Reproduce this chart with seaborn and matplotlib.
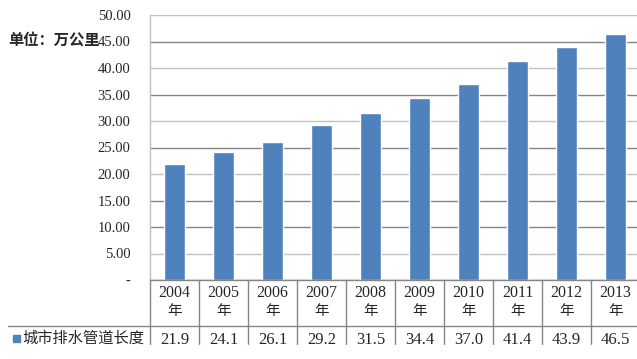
import numpy as np
import matplotlib
matplotlib.use('Agg')
import matplotlib.pyplot as plt
import matplotlib.transforms as mtransforms
from matplotlib.patches import Rectangle
from matplotlib.lines import Line2D
import seaborn as sns

# 数据
years = ['2004', '2005', '2006', '2007', '2008', '2009', '2010', '2011', '2012', '2013']
lengths = [21.9, 24.1, 26.1, 29.2, 31.5, 34.4, 37.0, 41.4, 43.9, 46.5]
series_name = '城市排水管道长度'
unit_label = '单位：万公里'
yticks = [0, 5, 10, 15, 20, 25, 30, 35, 40, 45, 50]

sns.set_style('white')
plt.rcParams['font.family'] = ['Liberation Serif', 'Noto Sans CJK SC', 'DejaVu Sans']

W, H = 637, 359
bar_color = '#4F81BD'
light = '#c0c0c0'
dark = '#858585'

fig = plt.figure(figsize=(W / 100, H / 100), dpi=100)
ax = fig.add_axes([150 / W, 79 / H, 490 / W, 265 / H])

sns.barplot(x=years, y=lengths, color=bar_color, width=0.41, saturation=1, ax=ax)

ax.set_xlim(-0.5, 9.5)
ax.set_ylim(0, 50)
ax.set_yticks(yticks)
ax.set_yticklabels(['-' if v == 0 else f'{v:.2f}' for v in yticks],
                   fontsize=10.5, family='Liberation Serif')
ax.tick_params(axis='y', length=0, pad=14)
ax.tick_params(axis='x', length=0, labelbottom=False)
ax.set_xlabel('')
ax.set_ylabel('')
ax.yaxis.grid(True, lw=1)
ax.set_axisbelow(True)
# 网格线深浅交替（原图效果）
grid_cols = [dark, light, dark, dark, light, dark, light, dark, light, dark, light]
for gl, c in zip(ax.yaxis.get_gridlines(), grid_cols):
    gl.set_color(c)
for s in ['top', 'right']:
    ax.spines[s].set_visible(False)
ax.spines['left'].set_color(light)
ax.spines['bottom'].set_color(dark)
for s in ['left', 'bottom']:
    ax.spines[s].set_linewidth(1)

# 表格部分
trans = mtransforms.blended_transform_factory(ax.transData, ax.transAxes)
px = 1 / 265
for k in range(len(years) + 1):
    ax.add_line(Line2D([k - 0.5, k - 0.5], [0, -66 * px], color=dark,
                       lw=1, transform=trans, clip_on=False))

for i, (yr, v) in enumerate(zip(years, lengths)):
    ax.text(i, -13 * px, yr, transform=trans, ha='center', va='center',
            fontsize=11.5, family='Liberation Serif')
    ax.text(i, -31 * px, '年', transform=trans, ha='center', va='center',
            fontsize=10.5, family='Noto Sans CJK SC')
    ax.text(i, -60 * px, f'{v:.1f}', transform=trans, ha='center', va='center',
            fontsize=12, family='Liberation Serif')

fig.add_artist(Line2D([8 / W, 1], [1 - 326 / H, 1 - 326 / H], color=dark,
                      lw=1, transform=fig.transFigure))

# 图例
fig.add_artist(Rectangle((13 / W, 1 - 342 / H), 7 / W, 7 / H, color=bar_color,
                         transform=fig.transFigure))
fig.text(22 / W, 1 - 338 / H, series_name, ha='left', va='center',
         fontsize=11, family='Noto Sans CJK SC')

# 单位
fig.text(8 / W, 1 - 41 / H, unit_label, ha='left', va='center',
         fontsize=11, fontweight='bold', family='Noto Sans CJK SC')

# 底部白色遮挡
fig.add_artist(Rectangle((0, 0), 1, 14 / H, color='white',
                         transform=fig.transFigure, zorder=20))

fig.savefig('out.png', dpi=100)
